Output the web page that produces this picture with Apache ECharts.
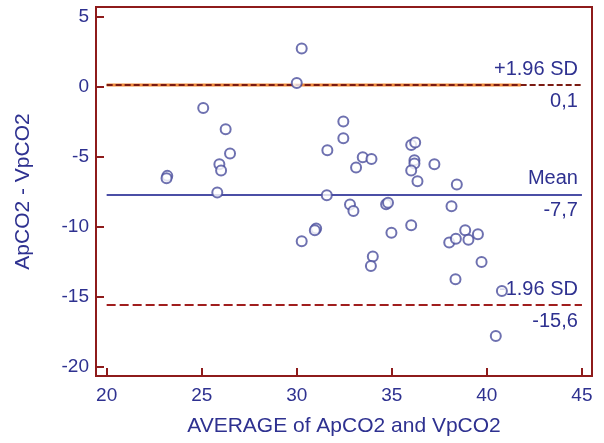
<!DOCTYPE html>
<html>
<head>
<meta charset="utf-8">
<script src="https://cdn.jsdelivr.net/npm/echarts@6/dist/echarts.min.js"></script>
<style>
  html, body { margin: 0; padding: 0; background: #fff; }
  #chart { width: 604px; height: 443px; }
</style>
</head>
<body>
<div id="chart"></div>
<script>
// average of ApCO2 and VpCO2
const avgValues = [
  30.26, 30.0, 25.08, 26.26, 26.49, 25.93, 26.02, 23.19, 23.15, 31.61,
  25.82, 31.58, 31.02, 30.95, 30.26, 32.45, 32.45, 33.47, 33.93, 33.12,
  36.02, 36.23, 36.19, 36.19, 36.02, 36.35, 37.24, 38.42, 32.8, 32.98,
  34.7, 34.8, 38.14, 34.98, 36.02, 34.0, 33.9, 38.02, 38.37, 38.86,
  39.03, 39.53, 39.72, 38.35, 40.79, 40.47
]
// difference ApCO2 - VpCO2
const diffValues = [
  2.71, 0.24, -1.53, -3.05, -4.79, -5.55, -6.0, -6.38, -6.55, -4.55,
  -7.57, -7.76, -10.14, -10.26, -11.05, -2.5, -3.69, -5.05, -5.17, -5.79,
  -4.17, -4.0, -5.26, -5.5, -6.0, -6.76, -5.55, -7.0, -8.43, -8.88,
  -8.4, -8.29, -8.55, -10.43, -9.91, -12.14, -12.81, -11.14, -10.86, -10.26,
  -10.93, -10.55, -12.53, -13.76, -14.6, -17.81
]
const xTicks = [20, 25, 30, 35, 40, 45]
const yTicks = [-20, -15, -10, -5, 0, 5]
const limitNames = ['+1.96 SD', 'Mean', '-1.96 SD']
const limitValues = [0.1, -7.7, -15.6]
const lineStart = 20
const lineEnd = 45
const orangeEnd = 41.8

const navy = '#2e3190'
const frame = '#8e1b1b'
const fmt = v => v.toFixed(1).replace('.', ',')

function levelLines(i, style) {
  const v = limitValues[i]
  return [
    [{ coord: [lineStart, v], lineStyle: style,
       label: { show: true, position: 'insideEndTop', formatter: limitNames[i] } },
     { coord: [lineEnd, v] }],
    [{ coord: [lineStart, v], lineStyle: { color: 'rgba(0,0,0,0)', width: 1, type: 'solid' },
       label: { show: true, position: 'insideEndBottom', formatter: fmt(v) } },
     { coord: [lineEnd, v] }]
  ]
}

const chart = echarts.init(document.getElementById('chart'), null, { renderer: 'canvas' })

chart.setOption({
  backgroundColor: '#fff',
  animation: false,
  textStyle: { fontFamily: 'Liberation Sans, Arial, sans-serif' },
  grid: {
    left: 96, right: 12, top: 7, bottom: 67,
    show: true, borderColor: frame, borderWidth: 2
  },
  xAxis: {
    type: 'value',
    min: 19.44,
    max: 45.53,
    name: 'AVERAGE of ApCO2 and VpCO2',
    nameLocation: 'middle',
    nameGap: 40,
    nameTextStyle: { color: navy, fontSize: 21 },
    axisLine: { show: true, onZero: false, lineStyle: { color: frame, width: 2 } },
    axisTick: { show: true, inside: true, length: 8, customValues: xTicks,
      lineStyle: { color: frame, width: 2 } },
    axisLabel: { color: navy, fontSize: 19, margin: 10, customValues: xTicks },
    splitLine: { show: false }
  },
  yAxis: {
    type: 'value',
    min: -20.66,
    max: 5.67,
    name: 'ApCO2 - VpCO2',
    nameLocation: 'middle',
    nameGap: 62,
    nameTextStyle: { color: navy, fontSize: 21 },
    axisLine: { show: true, onZero: false, lineStyle: { color: frame, width: 2 } },
    axisTick: { show: true, inside: true, length: 8, customValues: yTicks,
      lineStyle: { color: frame, width: 2 } },
    axisLabel: { color: navy, fontSize: 19, margin: 7, customValues: yTicks },
    splitLine: { show: false }
  },
  series: [
    {
      // orange stroke under the upper limit dashes
      type: 'line',
      data: [[lineStart, limitValues[0]], [orangeEnd, limitValues[0]]],
      symbol: 'none',
      silent: true,
      z: 1,
      lineStyle: { color: '#ee8a3a', width: 3, type: 'solid' }
    },
    {
      type: 'line',
      data: [],
      z: 2,
      markLine: {
        silent: true,
        symbol: 'none',
        label: { color: navy, fontSize: 20, distance: [4, 6] },
        data: [
          ...levelLines(0, { color: '#7a1a12', width: 2, type: [6, 3] }),
          ...levelLines(1, { color: '#4b4fa6', width: 2, type: 'solid' }),
          ...levelLines(2, { color: '#a01e1e', width: 2, type: [9, 4] })
        ]
      }
    },
    {
      type: 'scatter',
      data: avgValues.map((x, i) => [x, diffValues[i]]),
      symbol: 'emptyCircle',
      symbolSize: 10,
      itemStyle: { color: '#4a4d9c', borderWidth: 1.1 },
      z: 5
    }
  ]
})
</script>
</body>
</html>
